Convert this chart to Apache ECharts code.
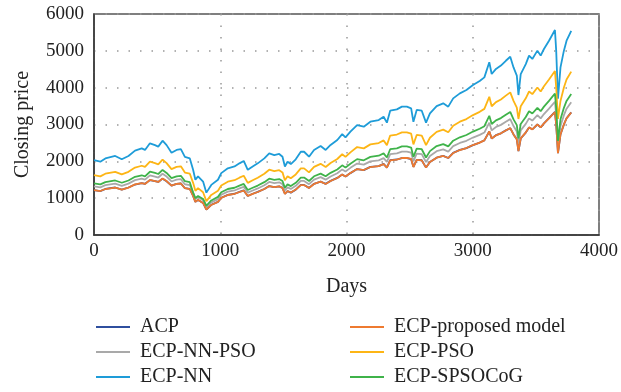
<!DOCTYPE html>
<html>
<head>
<meta charset="utf-8">
<script src="https://cdn.jsdelivr.net/npm/echarts@6/dist/echarts.min.js"></script>
<style>html,body{margin:0;padding:0;background:#fff}#c{width:621px;height:392px}</style>
</head>
<body>
<div id="c"></div>
<script>
const days = [0,50,90,168,220,273,325,378,404,443,483,509,543,575,614,654,688,720,759,785,803,824,864,890,929,982,1008,1060,1113,1152,1186,1218,1257,1297,1349,1388,1428,1467,1493,1512,1533,1559,1598,1638,1664,1703,1743,1795,1835,1874,1927,1966,1992,2031,2084,2137,2189,2255,2294,2320,2346,2399,2439,2478,2512,2530,2556,2596,2630,2661,2714,2766,2806,2845,2898,2950,3002,3055,3092,3131,3150,3184,3223,3262,3297,3323,3349,3362,3380,3420,3446,3472,3512,3538,3564,3604,3651,3661,3675,3695,3722,3743,3780];

const ecpNN = [2030,1990,2080,2145,2055,2145,2290,2350,2310,2490,2440,2400,2560,2440,2235,2310,2330,2120,2080,1770,1500,1590,1450,1150,1360,1500,1680,1810,1860,1945,2010,1770,1860,1945,2080,2215,2170,2200,2125,1860,1990,1925,2055,2260,2260,2125,2310,2415,2310,2445,2580,2740,2650,2805,2985,2940,3075,3120,3210,3050,3375,3410,3485,3485,3440,3075,3395,3375,3050,3300,3500,3575,3485,3710,3845,3935,4070,4180,4280,4690,4370,4510,4600,4730,4840,4550,4325,3800,4370,4640,4870,4780,5005,4870,5050,5275,5565,5005,3700,4550,5005,5275,5545];

const ecpPSO = [1624,1592,1664,1716,1644,1716,1832,1880,1848,1992,1952,1920,2048,1952,1788,1848,1864,1696,1664,1416,1200,1272,1160,920,1088,1200,1344,1448,1488,1556,1608,1416,1488,1556,1664,1772,1736,1760,1700,1488,1592,1540,1644,1808,1808,1700,1848,1932,1848,1956,2064,2192,2120,2244,2388,2352,2460,2496,2568,2440,2700,2728,2788,2788,2752,2460,2716,2700,2440,2640,2800,2860,2788,2968,3076,3148,3256,3344,3424,3752,3496,3608,3680,3784,3872,3640,3460,3150,3496,3712,3896,3824,4004,3896,4040,4220,4452,4004,3150,3640,4004,4220,4436];

const ecpSPSOCoG = [1401,1373,1435,1480,1418,1480,1580,1622,1594,1718,1684,1656,1766,1684,1542,1594,1608,1463,1435,1150,1000,1060,980,794,938,1035,1159,1249,1283,1342,1387,1221,1283,1342,1435,1528,1497,1518,1466,1283,1373,1328,1418,1559,1559,1466,1594,1666,1594,1687,1780,1891,1829,1935,2060,2029,2122,2153,2215,2105,2329,2353,2405,2405,2374,2122,2343,2329,2105,2277,2415,2467,2405,2560,2653,2715,2808,2884,2953,3236,3015,3112,3174,3264,3340,3140,2984,2622,3015,3202,3360,3298,3453,3360,3485,3640,3840,3453,2553,3140,3453,3640,3826];

const ecpNNPSO = [1320,1294,1352,1394,1336,1394,1489,1528,1502,1619,1586,1560,1664,1586,1453,1502,1515,1378,1352,1151,975,1034,943,748,884,975,1092,1177,1209,1264,1307,1151,1209,1264,1352,1440,1411,1430,1381,1209,1294,1251,1336,1469,1469,1381,1502,1570,1502,1589,1677,1781,1723,1823,1940,1911,1999,2028,2087,1983,2194,2217,2265,2265,2236,1999,2207,2194,1983,2145,2275,2324,2265,2412,2499,2558,2646,2717,2782,3049,2841,2932,2990,3075,3146,2958,2811,2470,2841,3016,3166,3107,3253,3166,3283,3429,3617,3253,2405,2958,3253,3429,3604];

const ecpProposed = [1218,1194,1248,1287,1233,1287,1374,1410,1386,1494,1464,1440,1536,1464,1341,1386,1398,1272,1248,1062,900,954,870,690,816,900,1008,1086,1116,1167,1206,1062,1116,1167,1248,1329,1302,1320,1275,1116,1194,1155,1233,1356,1356,1275,1386,1449,1386,1467,1548,1644,1590,1683,1791,1764,1845,1872,1926,1830,2025,2046,2091,2091,2064,1845,2037,2025,1830,1980,2100,2145,2091,2226,2307,2361,2442,2508,2568,2814,2622,2706,2760,2838,2904,2730,2595,2280,2622,2784,2922,2868,3003,2922,3030,3165,3339,3003,2220,2730,3003,3165,3327];

const acp = [1220,1190,1250,1290,1230,1290,1370,1410,1390,1490,1460,1440,1530,1460,1340,1390,1400,1270,1250,1060,900,950,870,690,820,900,1010,1090,1120,1170,1210,1060,1120,1170,1250,1330,1300,1320,1280,1120,1190,1150,1230,1360,1360,1280,1390,1450,1390,1470,1550,1640,1590,1680,1790,1760,1850,1870,1930,1830,2030,2050,2090,2090,2060,1850,2040,2030,1830,1980,2100,2150,2090,2230,2310,2360,2440,2510,2570,2810,2620,2710,2760,2840,2900,2730,2600,2280,2620,2780,2920,2870,3000,2920,3030,3170,3340,3000,2220,2730,3000,3170,3330];

const seriesNames = ['ACP','ECP-NN-PSO','ECP-NN','ECP-proposed model','ECP-PSO','ECP-SPSOCoG'];
const seriesValues = [acp, ecpNNPSO, ecpNN, ecpProposed, ecpPSO, ecpSPSOCoG];
const seriesColors = ['#2f4f9e','#a9a9a9','#1e9cd8','#ee7a30','#fdb515','#3fb34a'];

const FONT = 'Liberation Serif';
const chart = echarts.init(document.getElementById('c'));
const pairs = v => days.map((d,i)=>[d, v[i]]);
const legendBase = {orient:'vertical',top:312,height:120,icon:'rect',itemWidth:34,itemHeight:2,itemGap:5,
  textStyle:{fontFamily:FONT,fontSize:20,color:'#222',padding:[0,0,0,5]}};

chart.setOption({
  animation:false,
  grid:{left:94,right:19,top:14,bottom:157,show:true,borderColor:'#555',borderWidth:1.5},
  xAxis:{type:'value',min:0,max:4000,interval:1000,
    name:'Days',nameLocation:'middle',nameGap:42,
    nameTextStyle:{fontFamily:FONT,fontSize:20,color:'#222'},
    axisLine:{lineStyle:{color:'#333',width:1.5}},
    axisTick:{show:false},
    axisLabel:{fontFamily:FONT,fontSize:19,color:'#222',margin:7,formatter:v=>String(v)},
    splitLine:{lineStyle:{color:'#999',type:[1.5,10],width:1.5}}},
  yAxis:{type:'value',min:0,max:6000,interval:1000,
    name:'Closing price',nameLocation:'middle',nameGap:61,nameRotate:90,
    nameTextStyle:{fontFamily:FONT,fontSize:20,color:'#222'},
    axisLine:{show:true,lineStyle:{color:'#333',width:1.5}},
    axisTick:{show:false},
    axisLabel:{fontFamily:FONT,fontSize:19,color:'#222',margin:10,formatter:v=>String(v)},
    splitLine:{lineStyle:{color:'#999',type:[1.5,10],width:1.5}}},
  legend:[
    Object.assign({data:seriesNames.slice(0,3),left:91}, legendBase),
    Object.assign({data:seriesNames.slice(3),left:345}, legendBase)
  ],
  series:seriesNames.map((n,i)=>({name:n,type:'line',data:pairs(seriesValues[i]),showSymbol:false,
    color:seriesColors[i],lineStyle:{width:1.8,color:seriesColors[i]}}))
});
</script>
</body>
</html>
